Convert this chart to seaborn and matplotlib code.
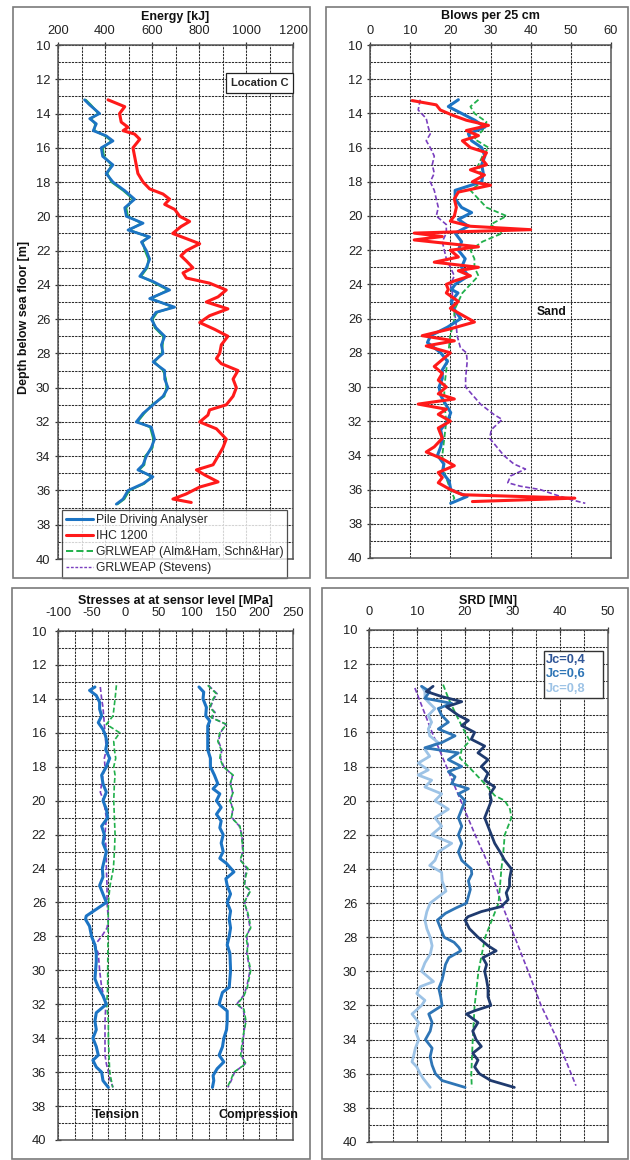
import matplotlib
matplotlib.use("Agg")
import matplotlib.pyplot as plt
import seaborn as sns
from matplotlib.lines import Line2D
from matplotlib.patches import Rectangle
from matplotlib.ticker import MultipleLocator

sns.set_theme(style="white")
plt.rcParams['font.family'] = ['Liberation Sans', 'DejaVu Sans']
plt.rcParams['axes.unicode_minus'] = False

# ---------------- Energy [kJ] ----------------
pda_energy_depth = [13.2, 13.5, 14.0, 14.3, 14.6, 15.0, 15.3, 15.6, 16.0, 16.5, 17.0, 17.5, 18.0, 18.5,
                    19.0, 19.5, 20.0, 20.4, 20.8, 21.2, 21.5, 22.0, 22.5, 23.0, 23.5, 23.8, 24.3, 24.8,
                    25.3, 25.6, 26.0, 26.5, 27.0, 27.5, 28.0, 28.5, 29.0, 29.5, 30.0, 30.5, 31.0, 31.5,
                    32.0, 32.3, 33.0, 33.5, 34.0, 34.5, 34.8, 35.2, 35.6, 36.0, 36.5, 36.8]
pda_energy_kj = [313, 335, 377, 335, 363, 350, 405, 434, 384, 390, 434, 405, 434, 484,
                 526, 484, 491, 562, 498, 590, 555, 576, 590, 576, 548, 604, 675, 590,
                 696, 617, 597, 617, 654, 640, 647, 605, 654, 654, 668, 647, 605, 562,
                 533, 597, 611, 597, 576, 562, 540, 604, 562, 498, 477, 448]
grl_energy_kj = [318, 340, 372, 340, 358, 355, 400, 428, 390, 395, 428, 410, 428, 478,
                 520, 490, 497, 556, 503, 584, 560, 570, 585, 580, 553, 598, 668, 596,
                 690, 622, 602, 612, 648, 645, 642, 610, 648, 659, 662, 652, 600, 567,
                 538, 592, 606, 602, 571, 567, 545, 598, 567, 503, 482, 453]
ihc_energy_depth = [13.2, 13.6, 14.0, 14.5, 14.8, 15.0, 15.2, 15.5, 16.0, 16.5, 17.0, 17.5, 18.0, 18.4,
                    18.7, 19.0, 19.3, 19.6, 20.0, 20.3, 20.6, 21.0, 21.3, 21.6, 22.0, 22.3, 22.6, 23.0,
                    23.3, 23.6, 23.9, 24.3, 24.7, 25.0, 25.4, 25.8, 26.2, 26.6, 27.0, 27.5, 28.0, 28.3,
                    28.6, 29.0, 29.5, 30.0, 30.5, 31.0, 31.3, 31.6, 32.0, 32.4, 33.0, 33.5, 34.0, 34.5,
                    34.8, 35.1, 35.5, 35.8, 36.2, 36.5, 36.7]
ihc_energy_kj = [413, 484, 462, 469, 498, 477, 526, 548, 519, 526, 533, 540, 562, 590,
                 647, 675, 654, 697, 718, 760, 723, 688, 746, 803, 746, 723, 746, 774,
                 732, 746, 845, 916, 881, 831, 923, 845, 803, 867, 923, 895, 888, 874,
                 895, 966, 945, 959, 945, 916, 845, 838, 803, 874, 916, 902, 881, 860,
                 789, 825, 881, 803, 746, 689, 767]

# ---------------- Blows per 25 cm ----------------
pda_blows_depth = [13.2, 13.6, 14.0, 14.4, 14.8, 15.2, 15.6, 16.0, 16.5, 17.0, 17.5, 18.0, 18.5, 19.0,
                   19.5, 19.8, 20.2, 20.6, 21.0, 21.5, 22.0, 22.5, 23.0, 23.5, 24.0, 24.3, 24.5, 25.0,
                   25.5, 26.0, 26.5, 27.0, 27.4, 28.0, 28.5, 29.0, 29.5, 30.0, 30.5, 31.0, 31.5, 32.0,
                   32.5, 33.0, 33.5, 34.0, 34.5, 35.0, 35.5, 36.0, 36.4, 36.8]
pda_blows = [22.0, 19.5, 22.8, 26.1, 28.6, 24.5, 25.3, 27.8, 28.6, 27.8, 28.2, 27.8, 21.2, 21.2,
             22.8, 25.3, 22.0, 24.5, 21.2, 22.8, 22.0, 23.7, 22.8, 24.5, 21.2, 20.3, 21.9, 20.2,
             21.1, 22.6, 19.3, 15.1, 14.3, 17.6, 19.3, 18.0, 18.0, 17.2, 17.6, 18.8, 20.1, 19.3,
             17.6, 18.0, 17.6, 16.8, 18.4, 18.0, 19.7, 20.1, 24.2, 20.1]
ihc_blows_depth = [13.25, 13.5, 13.8, 14.1, 14.4, 14.7, 15.0, 15.3, 15.6, 16.0, 16.3, 16.7, 17.0, 17.3,
                   17.6, 18.0, 18.2, 18.6, 19.0, 19.5, 20.0, 20.3, 20.6, 20.8, 21.0, 21.2, 21.4, 21.6,
                   21.8, 22.0, 22.4, 22.7, 23.0, 23.2, 23.5, 23.8, 24.0, 24.3, 24.5, 25.0, 25.4, 25.8,
                   26.2, 26.6, 27.0, 27.3, 27.6, 28.0, 28.4, 28.8, 29.2, 29.6, 30.0, 30.4, 30.7, 31.0,
                   31.3, 31.6, 32.0, 32.4, 33.0, 33.5, 33.8, 34.2, 34.6, 35.0, 35.3, 35.6, 36.0, 36.3,
                   36.5, 36.7]
ihc_blows = [10.5, 16.5, 17.5, 20.5, 24.0, 29.5, 24.0, 27.0, 23.0, 25.0, 29.0, 28.0, 29.0, 25.0,
             28.5, 25.5, 30.0, 22.0, 21.0, 21.5, 21.0, 20.0, 25.0, 40.0, 11.0, 18.0, 11.0, 19.0,
             27.0, 20.0, 22.0, 16.0, 27.0, 22.0, 25.0, 21.0, 19.0, 19.5, 19.0, 22.0, 20.0, 23.0,
             26.0, 20.0, 13.0, 21.0, 14.0, 20.0, 18.0, 16.0, 18.0, 17.0, 19.0, 17.0, 21.0, 12.0,
             19.0, 17.0, 20.0, 17.0, 18.0, 16.0, 14.0, 18.0, 21.0, 17.0, 18.0, 17.0, 20.0, 23.0,
             51.0, 25.5]
grl_blows_depth = [13.2, 13.6, 14.0, 14.5, 15.0, 15.5, 16.0, 16.5, 17.0, 17.5, 18.0, 18.5, 19.0, 19.5,
                   20.0, 20.5, 21.0, 21.5, 22.0, 22.5, 23.0, 23.5, 24.0, 24.5, 25.0, 25.5, 26.0, 27.0,
                   28.0, 29.0, 30.0, 31.0, 32.0, 33.0, 34.0, 35.0, 36.0, 36.5, 36.8]
grl_blows = [27.0, 25.0, 26.0, 29.0, 28.0, 26.0, 29.5, 28.0, 27.0, 27.5, 28.0, 25.0, 27.0, 29.0,
             34.0, 30.0, 33.0, 28.0, 25.0, 26.0, 26.0, 27.0, 25.0, 23.0, 22.0, 21.0, 21.0, 20.0,
             19.5, 19.0, 18.5, 18.5, 19.0, 18.5, 18.0, 18.5, 20.0, 21.0, 20.0]
stev_blows_depth = [13.2, 13.8, 14.3, 14.8, 15.2, 15.6, 16.0, 16.5, 17.0, 17.5, 18.0, 18.5, 19.0, 19.5,
                    20.0, 20.5, 21.0, 21.5, 22.0, 22.5, 23.0, 23.5, 24.0, 24.5, 25.0, 26.0, 27.0, 27.7,
                    28.0, 28.5, 29.5, 30.0, 31.0, 31.6, 31.9, 32.5, 33.0, 34.0, 34.5, 34.8, 35.2, 35.6,
                    35.8, 36.0, 36.3, 36.6, 36.8]
stev_blows = [12.5, 12.0, 14.0, 14.5, 15.0, 14.0, 15.0, 16.0, 15.5, 16.0, 15.0, 16.0, 16.5, 17.0,
              16.5, 19.0, 19.0, 18.0, 18.5, 19.0, 20.0, 21.0, 20.0, 20.5, 20.5, 21.3, 21.7, 22.5,
              24.0, 24.2, 23.8, 23.8, 27.5, 30.8, 32.9, 30.2, 29.8, 33.3, 35.8, 38.7, 35.0, 34.3,
              37.4, 42.4, 46.1, 50.2, 53.6]

# ---------------- Stresses [MPa] ----------------
ten_pda_depth = [13.3, 13.5, 13.8, 14.2, 14.6, 15.0, 15.4, 15.8, 16.2, 16.6, 17.0, 17.5, 18.0, 18.5,
                 19.0, 19.5, 20.0, 20.5, 21.0, 21.5, 22.0, 22.5, 23.0, 23.5, 24.0, 24.5, 25.0, 25.5,
                 26.0, 26.4, 26.8, 27.0, 27.4, 28.0, 28.5, 29.0, 29.5, 30.0, 30.5, 31.0, 31.5, 32.0,
                 32.5, 33.0, 33.5, 34.0, 34.5, 35.0, 35.3, 35.7, 36.0, 36.5, 36.9]
ten_pda = [-45, -53, -43, -38, -38, -35, -40, -33, -29, -27, -29, -23, -28, -35,
           -33, -28, -33, -28, -26, -35, -31, -33, -28, -31, -34, -33, -38, -33,
           -28, -43, -58, -59, -53, -50, -45, -43, -43, -44, -45, -40, -33, -28,
           -43, -45, -43, -48, -43, -40, -48, -43, -35, -33, -25]
ten_stev_depth = [13.3, 14.0, 14.5, 15.0, 16.0, 17.0, 17.5, 18.0, 18.5, 19.5, 20.0, 21.0, 22.0, 23.0,
                  24.0, 25.0, 26.0, 27.0, 27.5, 28.0, 28.5, 29.0, 30.0, 31.0, 31.8, 32.2, 33.0, 34.0,
                  35.0, 35.5, 36.0, 36.5, 36.9]
ten_stev = [-37, -35, -33, -32, -30, -28, -31, -30, -33, -37, -32, -28, -30, -28,
            -28, -27, -27, -25, -27, -35, -45, -40, -38, -35, -30, -29, -30, -30,
            -30, -28, -25, -22, -18]
ten_grl_depth = [13.2, 14.0, 15.0, 15.5, 16.0, 16.5, 17.0, 17.5, 18.0, 18.5, 19.0, 20.0, 21.0, 22.0,
                 23.0, 24.0, 25.0, 26.0, 28.0, 30.0, 31.0, 32.0, 33.0, 34.0, 35.0, 36.0, 36.9]
ten_grl = [-13, -15, -18, -28, -8, -17, -16, -14, -17, -15, -16, -17, -16, -15,
           -16, -17.5, -22.5, -25, -25.5, -26, -26, -27.5, -25, -25, -24, -23, -18.5]

com_pda_depth = [13.3, 13.6, 14.0, 14.5, 15.0, 15.3, 15.6, 16.0, 17.0, 17.5, 18.0, 18.5, 19.0, 19.3,
                 19.6, 20.0, 20.4, 20.8, 21.2, 21.6, 22.0, 22.5, 23.0, 23.4, 23.7, 24.2, 24.6, 25.0,
                 25.5, 26.0, 26.5, 27.0, 27.5, 28.0, 28.5, 29.0, 30.0, 30.5, 31.0, 31.3, 31.7, 32.0,
                 32.4, 33.0, 33.5, 34.0, 34.5, 35.0, 35.4, 35.8, 36.2, 36.5, 36.9]
com_pda = [110, 117, 116, 121, 120, 126, 123, 123, 123, 127, 127, 133, 138, 131,
           141, 136, 143, 136, 143, 141, 146, 143, 146, 141, 151, 162, 150, 152,
           157, 152, 157, 155, 157, 155, 152, 156, 157, 156, 155, 145, 142, 140,
           152, 152, 151, 147, 145, 140, 147, 137, 131, 132, 130]
com_grl_depth = [13.2, 13.7, 14.0, 14.5, 14.8, 15.1, 15.5, 16.0, 16.5, 17.0, 17.5, 18.0, 18.5, 19.0,
                 19.5, 20.0, 20.5, 21.0, 21.5, 22.0, 23.0, 23.5, 24.0, 24.4, 25.0, 25.3, 26.0, 26.5,
                 27.0, 27.5, 28.0, 28.5, 29.0, 30.0, 31.0, 31.5, 32.0, 32.3, 33.0, 34.0, 35.0, 35.5,
                 36.0, 36.5, 36.9]
com_grl = [123, 136, 131, 126, 133, 128, 151, 141, 138, 143, 141, 146, 161, 156,
           161, 156, 161, 158, 171, 173, 176, 171, 183, 180, 177, 187, 177, 182,
           185, 187, 180, 182, 182, 187, 182, 177, 167, 177, 180, 175, 172, 180,
           162, 157, 152]
com_stev = [124, 137, 132, 127, 134, 129, 150, 142, 139, 144, 142, 147, 160, 157,
            160, 157, 160, 159, 170, 174, 175, 172, 181, 179, 178, 186, 178, 181,
            184, 186, 181, 183, 181, 186, 181, 176, 166, 176, 179, 176, 173, 179,
            163, 158, 153]

# ---------------- SRD [MN] ----------------
jc04_depth = [13.3, 13.6, 13.9, 14.2, 14.5, 15.0, 15.3, 15.6, 16.0, 16.4, 16.8, 17.2, 17.6, 18.0,
              18.4, 18.8, 19.2, 19.6, 20.0, 20.5, 21.0, 21.5, 22.0, 22.5, 23.0, 23.5, 24.0, 24.6,
              25.0, 25.4, 25.8, 26.2, 26.5, 26.8, 27.0, 27.5, 28.0, 28.5, 28.8, 29.2, 29.6, 30.0,
              30.5, 31.0, 31.5, 32.0, 32.3, 32.5, 33.0, 33.5, 34.0, 34.4, 34.8, 35.2, 35.6, 36.0,
              36.4, 36.8]
jc04 = [13.4, 12.0, 15.2, 19.4, 16.2, 18.7, 20.8, 19.4, 22.1, 21.4, 24.2, 22.8, 24.9, 23.5,
        24.9, 24.2, 26.3, 25.3, 25.6, 24.9, 24.2, 24.9, 25.6, 26.3, 27.4, 28.4, 29.8, 29.4,
        29.4, 28.7, 29.1, 27.7, 23.5, 20.7, 20.1, 21.0, 22.8, 24.9, 26.6, 23.8, 24.6, 24.2,
        24.6, 24.9, 24.9, 25.5, 22.2, 20.4, 22.8, 21.7, 22.4, 23.5, 21.7, 22.8, 22.1, 23.1,
        25.5, 30.4]
jc06_depth = [13.3, 13.6, 14.0, 14.3, 14.6, 15.0, 15.4, 15.8, 16.2, 16.6, 16.9, 17.2, 17.6, 18.0,
              18.3, 18.6, 19.0, 19.3, 19.6, 20.0, 20.5, 21.0, 21.5, 22.0, 22.5, 23.0, 23.5, 24.0,
              24.3, 24.7, 25.2, 25.6, 26.0, 26.3, 26.6, 27.0, 27.5, 28.0, 28.3, 28.6, 28.8, 29.2,
              29.6, 30.0, 30.5, 31.0, 31.5, 32.0, 32.5, 33.0, 33.5, 34.0, 34.5, 35.0, 35.5, 36.0,
              36.4, 36.8]
jc06 = [11.0, 12.7, 11.7, 17.3, 14.5, 15.2, 16.6, 14.5, 18.0, 15.2, 11.7, 18.7, 16.6, 19.4,
        16.6, 18.0, 17.3, 20.8, 18.7, 20.1, 19.4, 18.7, 19.4, 18.7, 19.4, 18.7, 19.4, 21.4,
        21.5, 20.8, 21.2, 20.8, 20.4, 18.1, 16.0, 14.3, 15.0, 15.7, 17.8, 18.8, 19.2, 16.7,
        16.0, 15.7, 15.3, 14.6, 15.0, 15.3, 12.5, 13.2, 12.8, 11.8, 13.2, 12.8, 13.2, 13.9,
        15.3, 20.1]
jc08_depth = [13.3, 13.6, 14.0, 14.3, 14.6, 15.0, 15.4, 15.8, 16.2, 16.6, 17.0, 17.4, 17.8, 18.2,
              18.5, 18.8, 19.2, 19.6, 20.0, 20.5, 21.0, 21.5, 22.0, 22.5, 23.0, 23.5, 23.8, 24.2,
              24.7, 25.3, 25.7, 26.0, 26.5, 27.0, 27.5, 28.0, 28.5, 29.0, 29.5, 30.0, 30.6, 30.9,
              31.3, 31.7, 32.0, 32.5, 33.0, 33.5, 34.0, 34.5, 35.0, 35.3, 35.6, 36.0, 36.3, 36.8]
jc08 = [11.0, 11.7, 11.7, 12.7, 13.8, 12.4, 13.1, 12.4, 12.7, 14.5, 11.7, 12.7, 10.3, 12.4,
        10.3, 13.1, 11.7, 15.2, 13.8, 16.6, 13.8, 15.2, 13.1, 17.3, 14.5, 13.8, 12.7, 15.2,
        15.3, 16.1, 14.2, 12.8, 12.1, 11.7, 12.1, 12.8, 13.2, 12.8, 11.7, 11.0, 13.5, 10.7,
        10.0, 11.7, 11.0, 9.0, 10.4, 9.7, 10.4, 9.7, 9.3, 9.0, 10.0, 10.7, 11.4, 12.8]
srd_grl_depth = [13.2, 14.0, 15.0, 16.0, 16.5, 17.0, 17.5, 18.0, 19.0, 19.7, 20.0, 20.5, 21.0, 21.5,
                 22.0, 23.0, 24.0, 26.0, 28.0, 30.0, 32.0, 34.0, 36.0, 36.8]
srd_grl = [15.5, 16.6, 18.3, 20.1, 21.1, 19.4, 19.0, 20.8, 24.2, 26.3, 28.4, 29.5, 29.8, 29.1,
           28.4, 28.1, 27.7, 27.1, 24.3, 22.9, 22.1, 21.7, 21.4, 21.5]
srd_stev_depth = [13.4, 16.0, 18.0, 20.0, 22.0, 24.0, 26.0, 28.0, 30.0, 32.0, 34.0, 36.7]
srd_stev = [9.6, 13.2, 16.2, 19.2, 22.2, 25.4, 27.7, 30.5, 33.3, 36.0, 39.4, 43.3]

legend_labels = ["Pile Driving Analyser", "IHC 1200",
                 "GRLWEAP (Alm&Ham, Schn&Har)", "GRLWEAP (Stevens)"]
jc_labels = ["Jc=0,4", "Jc=0,6", "Jc=0,8"]

C_PDA = "#1c74c4"
C_IHC = "#ff1a1a"
C_GRL = "#21b04b"
C_STV = "#7a3fbf"
C_JC = ["#1f3a6e", "#2e75b6", "#9dc3e6"]
C_JC_TEXT = ["#2f5597", "#2e75b6", "#9dc3e6"]

W, H = 630, 1160
fig = plt.figure(figsize=(W / 100, H / 100), dpi=100)


def px_axes(x0, y0, x1, y1):
    return fig.add_axes([x0 / W, 1 - y1 / H, (x1 - x0) / W, (y1 - y0) / H])


def frame(x0, y0, x1, y1):
    fig.patches.append(Rectangle((x0 / W, 1 - y1 / H), (x1 - x0) / W, (y1 - y0) / H,
                                 transform=fig.transFigure, fill=False,
                                 ec="#7a7a7a", lw=1.2, zorder=0))


def line(ax, x, y, color, lw, ls="-", z=3):
    sns.lineplot(x=x, y=y, sort=False, estimator=None, ax=ax, color=color,
                 lw=lw, linestyle=ls, legend=False, zorder=z)


def setup(ax, xlim, major, minor, title, title_py):
    ax.set_xlim(*xlim)
    ax.set_ylim(40, 10)
    ax.xaxis.set_major_locator(MultipleLocator(major))
    ax.xaxis.set_minor_locator(MultipleLocator(minor))
    ax.yaxis.set_major_locator(MultipleLocator(2))
    ax.yaxis.set_minor_locator(MultipleLocator(1))
    ax.xaxis.tick_top()
    ax.grid(which="both", color="#2a2a2a", linestyle=(0, (2.2, 1.0)), lw=0.75, zorder=1)
    ax.tick_params(which="major", direction="inout", length=5, width=0.9, color="#333",
                   labelsize=9.3, labelcolor="#222", top=True, bottom=False,
                   left=True, right=False, pad=3)
    ax.tick_params(which="minor", length=0)
    ax.set_xlabel("")
    ax.set_ylabel("")
    for s in ax.spines.values():
        s.set_color("#555")
        s.set_linewidth(1.1)
    ax.set_axisbelow(True)
    pos = ax.get_position()
    fig.text((pos.x0 + pos.x1) / 2, 1 - title_py / H, title,
             ha="center", va="center", fontsize=9, fontweight="bold", color="#111")


# ---- panel frames ----
frame(13, 7, 310, 578)
frame(326, 7, 628, 578)
frame(12, 588, 310, 1159)
frame(322, 588, 628, 1159)

# ---- Energy ----
ax1 = px_axes(58, 45, 293, 559)
line(ax1, grl_energy_kj, pda_energy_depth, C_GRL, 1.6, z=3)
line(ax1, pda_energy_kj, pda_energy_depth, C_PDA, 2.0, z=4)
line(ax1, ihc_energy_kj, ihc_energy_depth, C_IHC, 2.2, z=5)
setup(ax1, (200, 1200), 200, 100, "Energy [kJ]", 17)
ax1.set_ylabel("Depth below sea floor [m]", fontsize=9, fontweight="bold", color="#111")
ax1.yaxis.set_label_coords(-0.118, 0.47)
ax1.text(0.735, 0.927, "Location C", transform=ax1.transAxes, va="center", ha="left",
         fontsize=8, fontweight="bold", zorder=10,
         bbox=dict(boxstyle="square,pad=0.45", fc="white", ec="#222", lw=0.9))
handles = [Line2D([], [], color=C_PDA, lw=2.2),
           Line2D([], [], color=C_IHC, lw=2.2),
           Line2D([], [], color=C_GRL, lw=1.4, ls="--"),
           Line2D([], [], color=C_STV, lw=1.0, ls=(0, (2, 1.2)))]
leg = ax1.legend(handles, legend_labels, loc="lower left", bbox_to_anchor=(0.017, -0.036),
                 fontsize=8.7, frameon=True, fancybox=False, borderpad=0.3,
                 labelspacing=0.33, handlelength=2.3, handletextpad=0.2, borderaxespad=0)
leg.get_frame().set_edgecolor("#222")
leg.get_frame().set_linewidth(0.9)
leg.set_zorder(10)

# ---- Blows ----
ax2 = px_axes(370, 45, 611, 558)
line(ax2, stev_blows, stev_blows_depth, C_STV, 1.2, ls=(0, (3, 1.5)), z=3)
line(ax2, grl_blows, grl_blows_depth, C_GRL, 1.3, ls=(0, (3, 1.5)), z=3)
line(ax2, pda_blows, pda_blows_depth, C_PDA, 2.2, z=4)
line(ax2, ihc_blows, ihc_blows_depth, C_IHC, 2.2, z=5)
setup(ax2, (0, 60), 10, 10, "Blows per 25 cm", 16)
ax2.text(45.3, 25.6, "Sand", ha="center", va="center", fontsize=8.7, fontweight="bold", color="#111")

# ---- Stresses ----
ax3 = px_axes(58, 631, 293, 1140)
line(ax3, ten_stev, ten_stev_depth, C_STV, 1.2, ls=(0, (3, 1.5)), z=3)
line(ax3, ten_grl, ten_grl_depth, C_GRL, 1.2, ls=(0, (3, 1.5)), z=3)
line(ax3, ten_pda, ten_pda_depth, C_PDA, 2.2, z=4)
line(ax3, com_stev, com_grl_depth, C_STV, 1.2, ls=(0, (3, 1.5)), z=3)
line(ax3, com_grl, com_grl_depth, C_GRL, 1.2, ls=(0, (3, 1.5)), z=3)
line(ax3, com_pda, com_pda_depth, C_PDA, 2.2, z=4)
setup(ax3, (-100, 250), 50, 25, "Stresses at at sensor level [MPa]", 601)
ax3.tick_params(which="major", pad=6)
ax3.text(-48, 38.5, "Tension", ha="left", va="center", fontsize=9, fontweight="bold",
         color="#111", zorder=6)
ax3.text(139, 38.5, "Compression", ha="left", va="center", fontsize=9, fontweight="bold",
         color="#111", clip_on=False, zorder=6)

# ---- SRD ----
ax4 = px_axes(369, 630, 608, 1142)
line(ax4, srd_stev, srd_stev_depth, C_STV, 1.2, ls=(0, (3, 1.5)), z=3)
line(ax4, srd_grl, srd_grl_depth, C_GRL, 1.3, ls=(0, (3, 1.5)), z=3)
line(ax4, jc08, jc08_depth, C_JC[2], 2.0, z=4)
line(ax4, jc06, jc06_depth, C_JC[1], 2.0, z=4)
line(ax4, jc04, jc04_depth, C_JC[0], 2.0, z=5)
setup(ax4, (0, 50), 10, 5, "SRD [MN]", 601)
ax4.tick_params(which="major", pad=6)
# key box for the three Jc curves
ax4.add_patch(Rectangle((36.6, 11.23), 12.4, 2.75, fc="white", ec="#333", lw=1.0,
                        zorder=9, clip_on=False))
for lab, col, d in zip(jc_labels, C_JC_TEXT, [11.76, 12.58, 13.46]):
    ax4.text(37.0, d, lab, ha="left", va="center", fontsize=9.3, fontweight="bold",
             color=col, zorder=10)

fig.savefig("out.png", dpi=100, facecolor="white")
